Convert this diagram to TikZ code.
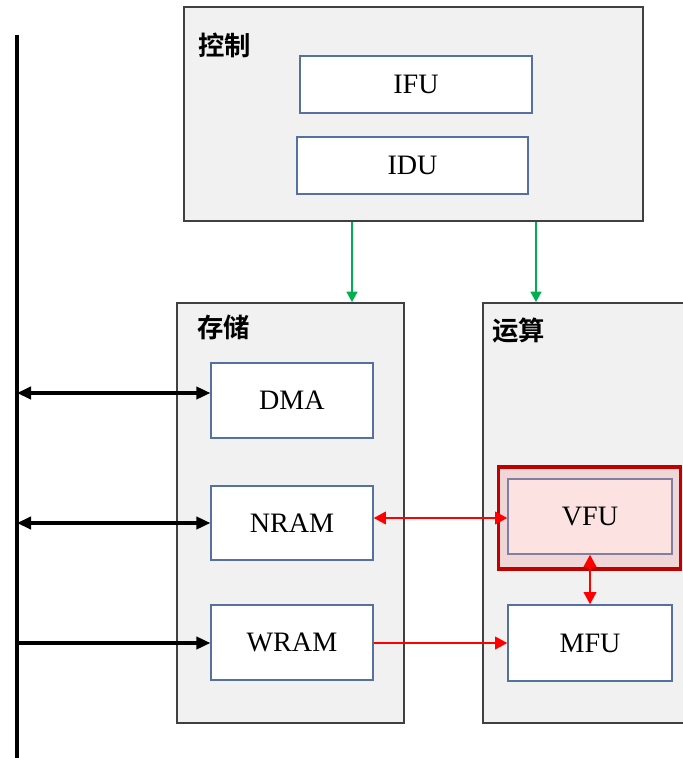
\documentclass[tikz,border=0pt]{standalone}
\usepackage{fontspec}
\setmainfont{Liberation Serif}
\newfontfamily\cjk{Noto Sans CJK SC}[BoldFont={Noto Sans CJK SC Bold}]
\usetikzlibrary{arrows.meta}
\definecolor{grayfill}{HTML}{F1F1F1}
\definecolor{grayline}{HTML}{404040}
\definecolor{blueline}{HTML}{5571A0}
\definecolor{pinkin}{HTML}{FDE2E2}
\definecolor{pinkout}{HTML}{F0D6D7}
\definecolor{darkred}{HTML}{C00000}
\definecolor{purpline}{HTML}{7F7F9F}
\definecolor{arrowred}{HTML}{FF0000}
\definecolor{arrowgreen}{HTML}{00B050}
\tikzset{
  group/.style={draw=grayline, fill=grayfill, line width=0.9pt, inner sep=0pt},
  unit/.style={draw=blueline, fill=white, line width=0.7pt, inner sep=0pt,
    font=\fontsize{16}{18}\selectfont},
  glabel/.style={anchor=west, inner sep=0pt, font=\cjk\bfseries\fontsize{15}{17}\selectfont},
  barrow/.style={line width=1.8pt, black},
  rarrow/.style={line width=1.6pt, arrowred},
  garrow/.style={line width=1.6pt, arrowgreen},
}
\begin{document}
\begin{tikzpicture}[x=0.02cm, y=-0.02cm]
\useasboundingbox (0,0) rectangle (683,758);
% bus
\coordinate (bustop) at (17,35);
\coordinate (busbot) at (17,760);
\draw[line width=1.8pt] (bustop) -- (busbot);
% groups
\node[group, minimum width=459*0.02cm, minimum height=214*0.02cm] (ctrl) at (413.5,114) {};
\node[group, minimum width=227*0.02cm, minimum height=420*0.02cm] (store) at (290.5,513) {};
\node[group, minimum width=217*0.02cm, minimum height=420*0.02cm] (comp) at (591.5,513) {};
\node[glabel] (lctrl) at (198,45) {控制};
\node[glabel] (lstore) at (197,327) {存储};
\node[glabel] (lcomp) at (492,331) {运算};
% control units
\node[unit, minimum width=232*0.02cm, minimum height=57*0.02cm] (IFU) at (416,84.5) {IFU};
\node[unit, minimum width=231*0.02cm, minimum height=57*0.02cm] (IDU) at (412.5,165.5) {IDU};
% storage units
\node[unit, minimum width=162*0.02cm, minimum height=75*0.02cm] (DMA) at (292,400.5) {DMA};
\node[unit, minimum width=162*0.02cm, minimum height=74*0.02cm] (NRAM) at (292,523) {NRAM};
\node[unit, minimum width=162*0.02cm, minimum height=75*0.02cm] (WRAM) at (292,642.5) {WRAM};
% compute units
\node[draw=darkred, fill=pinkout, line width=2.2pt, inner sep=0pt,
  minimum width=182*0.02cm, minimum height=102*0.02cm] (VFUo) at (589.5,518) {};
\node[unit, draw=purpline, fill=pinkin, minimum width=164*0.02cm, minimum height=75*0.02cm] (VFU) at (590,516.5) {VFU};
\node[unit, minimum width=164*0.02cm, minimum height=76*0.02cm] (MFU) at (590,643) {MFU};
% green arrows
\coordinate (g1) at (352,260);
\coordinate (g2) at (536,260);
\draw[garrow, -{Triangle[length=6pt,width=6pt]}] (ctrl.south -| g1) -- (store.north -| g1);
\draw[garrow, -{Triangle[length=6pt,width=6pt]}] (ctrl.south -| g2) -- (comp.north -| g2);
% black arrows
\coordinate (b1) at (17,393);
\coordinate (b2) at (17,523);
\coordinate (b3) at (17,643);
\draw[barrow, {Triangle[length=8pt,width=7pt]}-{Triangle[length=8pt,width=7pt]}] (b1) -- (b1 -| DMA.west);
\draw[barrow, {Triangle[length=8pt,width=7pt]}-{Triangle[length=8pt,width=7pt]}] (b2) -- (b2 -| NRAM.west);
\draw[barrow, -{Triangle[length=8pt,width=7pt]}] (b3) -- (b3 -| WRAM.west);
% red arrows
\coordinate (r1) at (440,518);
\coordinate (r2) at (440,643);
\coordinate (r3) at (590,580);
\draw[rarrow, {Triangle[length=7pt,width=7pt]}-{Triangle[length=7pt,width=7pt]}] (NRAM.east |- r1) -- (VFU.west |- r1);
\draw[rarrow, -{Triangle[length=7pt,width=7pt]}] (WRAM.east |- r2) -- (MFU.west |- r2);
\draw[rarrow, {Triangle[length=7pt,width=7pt]}-{Triangle[length=7pt,width=7pt]}] (VFU.south) -- (MFU.north);
\end{tikzpicture}
\end{document}
